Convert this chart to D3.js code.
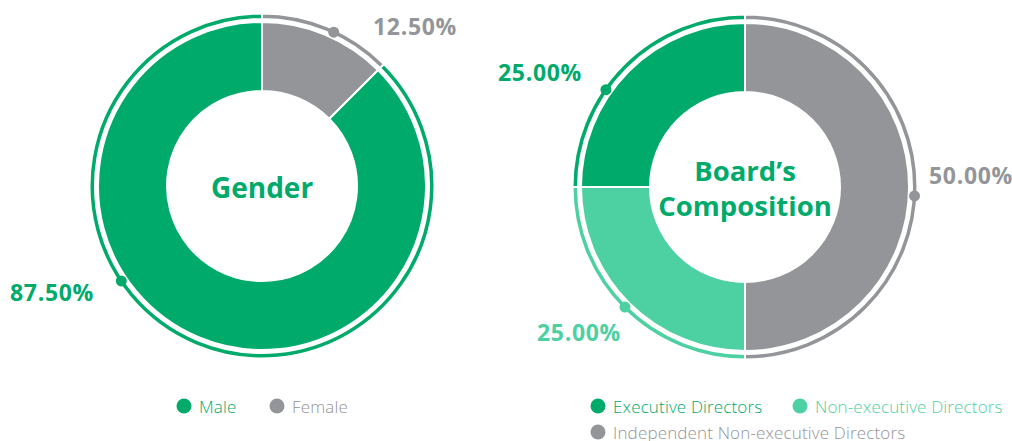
<!DOCTYPE html>
<html><head><meta charset="utf-8">
<script src="https://cdn.jsdelivr.net/npm/d3@7"></script>
<style>
html,body{margin:0;padding:0;background:#fff;}
svg{display:block;font-family:"Open Sans","Noto Sans",sans-serif;}
</style></head>
<body><svg id="c" width="1012" height="441"></svg>
<script>
// ---- data ----
const genderCategories = ["Male", "Female"];
const genderValues = [87.5, 12.5];
const genderLabels = ["87.50%", "12.50%"];
const boardCategories = ["Executive Directors", "Non-executive Directors", "Independent Non-executive Directors"];
const boardValues = [25, 25, 50];
const boardLabels = ["25.00%", "25.00%", "50.00%"];
const genderTitle = ["Gender"];
const boardTitle = ["Board\u2019s", "Composition"];

// ---- styles / layout ----
const C_DARK = "#00aa6a", C_GREY = "#939598", C_LIGHT = "#4ed1a2";
const genderColors = [C_DARK, C_GREY];
const boardColors = [C_DARK, C_LIGHT, C_GREY];
const R_IN = 95, R_OUT = 164, RING_IN = 167, RING_OUT = 172.5;

const svg = d3.select("#c");

function donut(cx, cy, cats, vals, colors, labels, dotAngles, labelPos, title, titleY, titleSize) {
  const g = svg.append("g").attr("transform", `translate(${cx},${cy})`);
  const pie = d3.pie().sort(null).startAngle(2 * Math.PI).endAngle(0);
  const arcs = pie(vals);
  const arcMain = d3.arc().innerRadius(R_IN).outerRadius(R_OUT);
  const arcRing = d3.arc().innerRadius(RING_IN).outerRadius(RING_OUT);
  g.selectAll("path.main").data(arcs).join("path").attr("class", "main")
    .attr("d", arcMain).attr("fill", (d, i) => colors[i])
    .attr("stroke", "#fff").attr("stroke-width", 2);
  g.selectAll("path.ring").data(arcs).join("path").attr("class", "ring")
    .attr("d", arcRing).attr("fill", (d, i) => colors[i])
    .attr("stroke", "#fff").attr("stroke-width", 2);
  const rd = (RING_IN + RING_OUT) / 2;
  g.selectAll("circle.dot").data(arcs).join("circle").attr("class", "dot")
    .attr("cx", (d, i) => rd * Math.sin(dotAngles[i] * Math.PI / 180))
    .attr("cy", (d, i) => -rd * Math.cos(dotAngles[i] * Math.PI / 180))
    .attr("r", 5.5).attr("fill", (d, i) => colors[i]);
  g.selectAll("text.pct").data(arcs).join("text").attr("class", "pct")
    .attr("x", (d, i) => labelPos[i][0]).attr("y", (d, i) => labelPos[i][1])
    .attr("text-anchor", "middle").attr("dominant-baseline", "central")
    .attr("font-size", 23).attr("font-weight", 700).attr("letter-spacing", 0.7)
    .attr("fill", (d, i) => colors[i]).text((d, i) => labels[i]);
  g.selectAll("text.title").data(title).join("text").attr("class", "title")
    .attr("x", 0).attr("y", (d, i) => titleY[i])
    .attr("text-anchor", "middle").attr("dominant-baseline", "central")
    .attr("font-size", titleSize).attr("font-weight", 700).attr("fill", C_DARK)
    .text(d => d);
}

donut(262, 186, genderCategories, genderValues, genderColors, genderLabels,
  [236, 25], [[-210, 106], [153, -160]], genderTitle, [1], 28);
donut(745, 187, boardCategories, boardValues, boardColors, boardLabels,
  [305, 225, 93], [[-205, -115], [-166, 145], [226, -12]], boardTitle, [-17, 18], 27.5);

function legend(items, colors, positions) {
  const g = svg.append("g");
  const it = g.selectAll("g").data(items).join("g")
    .attr("transform", (d, i) => `translate(${positions[i][0]},${positions[i][1]})`);
  it.append("circle").attr("r", 7.5).attr("fill", (d, i) => colors[i]);
  it.append("text").attr("x", 15).attr("dominant-baseline", "central")
    .attr("font-size", 17).attr("font-weight", 300).attr("letter-spacing", 0.15)
    .attr("fill", (d, i) => colors[i]).text(d => d);
}
legend(genderCategories, genderColors, [[184, 406], [277, 406]]);
legend(boardCategories, boardColors, [[598, 406], [800, 406], [598, 432]]);
</script></body></html>
